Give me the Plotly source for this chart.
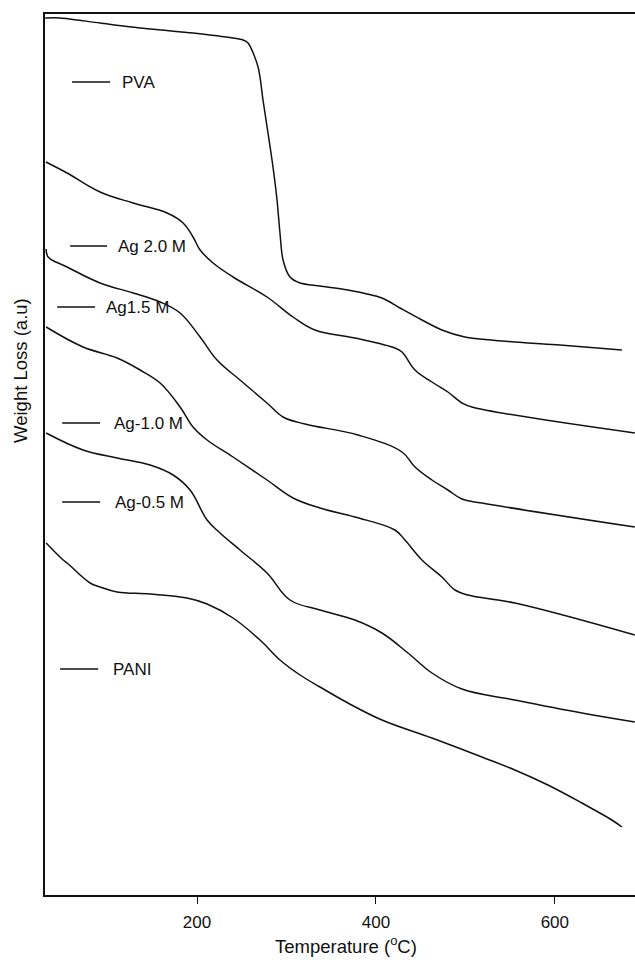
import plotly.graph_objects as go

# Temperature (°C) and weight-loss (arbitrary units)
pva_T = [30.2, 46.9, 91.6, 147.5, 195.5, 240.2, 251.4, 257.0, 268.2, 273.7, 279.3, 284.9, 289.4,
         292.7, 296.1, 303.9, 315.1, 337.4, 368.7, 406.7, 426.8, 451.4, 473.7, 499.4, 555.3, 605.6, 674.9]
pva_W = [877, 877, 872, 866, 862, 857, 855, 852, 828, 795, 762, 728, 695,
         662, 635, 618, 612, 609, 605, 597, 587, 575, 565, 558, 553, 550, 545]

ag20_T = [31.0, 54.7, 91.6, 128.5, 166.5, 184.4, 195.5, 203.4, 217.9, 240.2, 278.2, 307.3, 331.8,
          376.5, 421.2, 429.1, 443.6, 462.6, 480.4, 496.1, 507.3, 689.4]
ag20_W = [733, 722, 703, 692, 682, 672, 658, 645, 632, 618, 598, 578, 565,
          557, 547, 543, 525, 513, 503, 492, 488, 462]

ag15_T = [31.3, 33.5, 54.7, 91.6, 128.5, 158.7, 181.0, 203.4, 222.3, 248.0, 278.2, 296.1, 320.7,
          379.9, 429.1, 443.6, 462.6, 480.4, 496.1, 518.4, 689.4]
ag15_W = [646, 638, 628, 612, 602, 593, 582, 558, 535, 515, 492, 478, 471,
          460, 443, 428, 415, 405, 396, 392, 368]

ag10_T = [31.3, 72.6, 110.6, 136.3, 158.7, 181.0, 195.5, 211.2, 240.2, 278.2, 307.3, 337.4, 376.5,
          421.2, 432.4, 451.4, 473.7, 488.3, 502.8, 555.3, 689.4]
ag10_W = [568, 548, 537, 525, 512, 488, 468, 455, 438, 415, 397, 387, 378,
          365, 355, 335, 318, 305, 300, 292, 260]

ag05_T = [31.3, 72.6, 110.6, 147.5, 173.2, 192.2, 211.2, 225.7, 248.0, 278.2, 303.9, 337.4, 376.5,
          406.7, 435.8, 462.6, 496.1, 555.3, 630.2, 689.4]
ag05_W = [462, 445, 437, 430, 420, 405, 375, 362, 345, 322, 295, 285, 275,
          262, 242, 222, 206, 195, 182, 173]

pani_T = [31.3, 50.3, 54.7, 80.4, 91.6, 110.6, 147.5, 188.8, 211.2, 240.2, 270.4, 292.7, 315.1,
          337.4, 368.7, 406.7, 462.6, 518.4, 555.3, 592.2, 630.2, 663.7, 674.9]
pani_W = [352, 335, 332, 312, 308, 303, 301, 297, 291, 277, 255, 235, 220,
          208, 192, 175, 157, 138, 125, 110, 92, 75, 68]

series_names = ["PVA", "Ag 2.0 M", "Ag1.5 M", "Ag-1.0 M", "Ag-0.5 M", "PANI"]
series_T = [pva_T, ag20_T, ag15_T, ag10_T, ag05_T, pani_T]
series_W = [pva_W, ag20_W, ag15_W, ag10_W, ag05_W, pani_W]
series_smooth = [0.85, 1.1, 1.1, 1.1, 1.1, 1.1]

# label key positions (temperature start/end of key line, a.u. level, text start)
key_T0 = [60.3, 58.1, 43.6, 49.2, 49.2, 46.9]
key_T1 = [102.8, 99.4, 86.0, 91.6, 91.6, 89.4]
key_W = [813, 649, 588, 472, 393, 226]
key_text_T = [114.0, 109.5, 96.4, 105.0, 106.1, 103.9]

x_ticks = [200, 400, 600]

FONT = "Liberation Sans, Arial, sans-serif"
INK = "#111111"

fig = go.Figure()
for name, T, W, sm in zip(series_names, series_T, series_W, series_smooth):
    fig.add_trace(go.Scatter(x=T, y=W, mode="lines", name=name,
                             line=dict(color=INK, width=1.5, shape="spline", smoothing=sm),
                             showlegend=False, hoverinfo="skip"))

for name, t0, t1, w, tt in zip(series_names, key_T0, key_T1, key_W, key_text_T):
    fig.add_shape(type="line", xref="x", yref="y", x0=t0, x1=t1, y0=w, y1=w,
                  line=dict(color=INK, width=1.5))
    fig.add_annotation(x=tt, y=w, xref="x", yref="y", text=name, showarrow=False,
                       xanchor="left", yanchor="middle",
                       font=dict(family=FONT, size=17, color=INK))

# axis titles
fig.add_annotation(x=0.51, y=-0.057, xref="paper", yref="paper",
                   text="Temperature (<sup>o</sup>C)", showarrow=False,
                   xanchor="center", yanchor="middle",
                   font=dict(family=FONT, size=18.5, color=INK))
fig.add_annotation(x=-0.0407, y=0.596, xref="paper", yref="paper",
                   text="Weight Loss (a.u)", showarrow=False, textangle=-90,
                   xanchor="center", yanchor="middle",
                   font=dict(family=FONT, size=18.5, color=INK))

fig.update_layout(
    width=635, height=960,
    margin=dict(l=45, r=0, t=14, b=65),
    paper_bgcolor="white", plot_bgcolor="white",
    font=dict(family=FONT, size=17, color=INK),
    xaxis=dict(range=[30, 689.6], tickvals=x_ticks, ticks="outside", ticklen=7,
               tickwidth=1.3, tickcolor=INK, showline=True, linecolor=INK, linewidth=1.6,
               mirror=True, showgrid=False, zeroline=False, ticklabelstandoff=4,
               tickfont=dict(family=FONT, size=17, color=INK)),
    yaxis=dict(range=[0, 881], showticklabels=False, ticks="", showline=True,
               linecolor=INK, linewidth=1.6, showgrid=False, zeroline=False),
)

fig.write_html("out.html")
